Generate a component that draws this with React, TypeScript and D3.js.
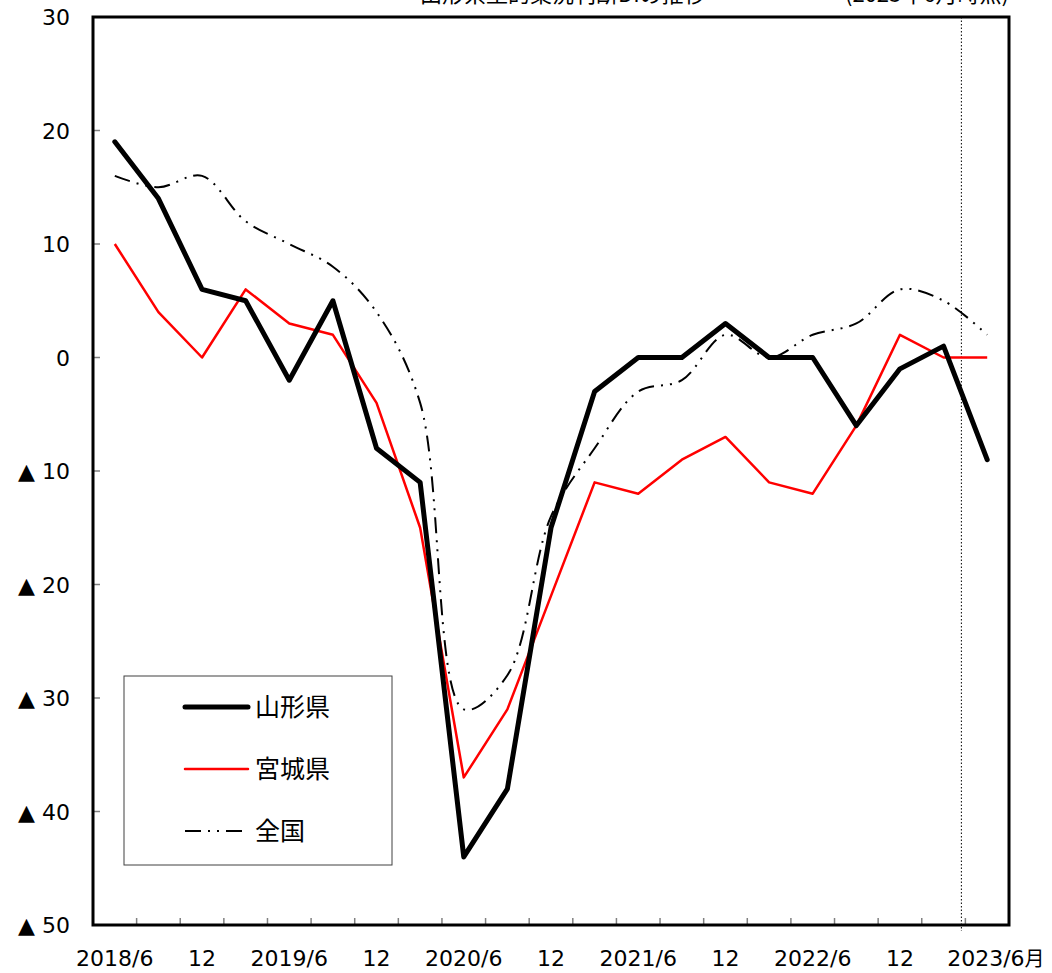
import React, { useRef, useEffect } from "react";
import * as d3 from "d3";

// quarters, 2018/6 .. 2023/6 (last one is the forecast)
const periods = [
  "2018/6", "2018/9", "2018/12", "2019/3", "2019/6", "2019/9", "2019/12",
  "2020/3", "2020/6", "2020/9", "2020/12", "2021/3", "2021/6", "2021/9",
  "2021/12", "2022/3", "2022/6", "2022/9", "2022/12", "2023/3", "2023/6",
];
const tickLabels = [
  "2018/6", "", "12", "", "2019/6", "", "12", "", "2020/6", "", "12", "",
  "2021/6", "", "12", "", "2022/6", "", "12", "", "2023/6",
];
const yamagata = [19, 14, 6, 5, -2, 5, -8, -11, -44, -38, -15, -3, 0, 0, 3, 0, 0, -6, -1, 1, -9];
const miyagi = [10, 4, 0, 6, 3, 2, -4, -15, -37, -31, -21, -11, -12, -9, -7, -11, -12, -6, 2, 0, 0];
const zenkoku = [16, 15, 16, 12, 10, 8, 4, -4, -31, -28, -14, -8, -3, -2, 2, 0, 2, 3, 6, 5, 2];
const yTicks = [30, 20, 10, 0, -10, -20, -30, -40, -50];

const W = 1052;
const H = 973;
const margin = { left: 93, right: 43, top: 17, bottom: 48 };
const numFont = "'DejaVu Sans', Verdana, sans-serif";
const jpFont = "'Noto Sans CJK JP', sans-serif";

function App() {
  const svgRef = useRef(null);

  useEffect(() => {
    const svg = d3.select(svgRef.current);
    svg.selectAll("*").remove();

    const x = d3
      .scaleBand()
      .domain(periods)
      .range([margin.left, W - margin.right])
      .padding(0);
    const y = d3
      .scaleLinear()
      .domain([-50, 30])
      .range([H - margin.bottom, margin.top]);
    const cx = (p) => x(p) + x.bandwidth() / 2;

    // title (mostly cut off at the top of the picture)
    svg.append("text")
      .attr("x", 420).attr("y", 2)
      .attr("font-family", jpFont).attr("font-size", 22)
      .text("山形県型的業況判断DIの推移");
    svg.append("text")
      .attr("x", 845).attr("y", 2)
      .attr("font-family", jpFont).attr("font-size", 22)
      .text("(2023年6月時点)");

    // tick marks, inside the frame
    const g = svg.append("g");
    yTicks.slice(1, -1).forEach((t) => {
      g.append("line")
        .attr("x1", margin.left).attr("x2", margin.left + 7)
        .attr("y1", y(t)).attr("y2", y(t))
        .attr("stroke", "#808080").attr("stroke-width", 1.5);
    });
    periods.slice(1).forEach((p) => {
      g.append("line")
        .attr("x1", x(p)).attr("x2", x(p))
        .attr("y1", y(-50)).attr("y2", y(-50) - 7)
        .attr("stroke", "#808080").attr("stroke-width", 1.5);
    });

    // y labels
    yTicks.forEach((t) => {
      svg.append("text")
        .attr("x", 70).attr("y", y(t) + 8)
        .attr("text-anchor", "end")
        .attr("font-family", numFont).attr("font-size", 22)
        .text(t < 0 ? "▲ " + Math.abs(t) : String(t));
    });

    // x labels
    periods.forEach((p, i) => {
      if (!tickLabels[i]) return;
      const last = i === periods.length - 1;
      const t = svg.append("text")
        .attr("x", last ? cx(p) - 40 : cx(p))
        .attr("y", 966)
        .attr("text-anchor", last ? "start" : "middle")
        .attr("font-family", numFont).attr("font-size", 22)
        .text(tickLabels[i]);
      if (last) {
        t.append("tspan").attr("font-family", jpFont).attr("font-size", 20).text("月");
      }
    });

    // forecast divider
    svg.append("line")
      .attr("x1", x("2023/6") - 4).attr("x2", x("2023/6") - 4)
      .attr("y1", y(30)).attr("y2", y(-50) + 6)
      .attr("stroke", "#000").attr("stroke-width", 1)
      .attr("stroke-dasharray", "1.5,2");

    const line = d3.line().x((d, i) => cx(periods[i])).y((d) => y(d));

    svg.append("path")
      .attr("d", line.curve(d3.curveCatmullRom.alpha(0.5))(zenkoku))
      .attr("fill", "none").attr("stroke", "#000").attr("stroke-width", 2)
      .attr("stroke-dasharray", "16,7,2,7,2,7");
    svg.append("path")
      .attr("d", line.curve(d3.curveLinear)(miyagi))
      .attr("fill", "none").attr("stroke", "#ff0000").attr("stroke-width", 2.5)
      .attr("stroke-linejoin", "round");
    svg.append("path")
      .attr("d", line.curve(d3.curveLinear)(yamagata))
      .attr("fill", "none").attr("stroke", "#000").attr("stroke-width", 5)
      .attr("stroke-linejoin", "round").attr("stroke-linecap", "round");

    // frame
    svg.append("rect")
      .attr("x", margin.left).attr("y", margin.top)
      .attr("width", W - margin.left - margin.right)
      .attr("height", H - margin.top - margin.bottom)
      .attr("fill", "none").attr("stroke", "#000").attr("stroke-width", 3);

    // legend
    const lg = svg.append("g");
    lg.append("rect")
      .attr("x", 124).attr("y", 676).attr("width", 268).attr("height", 189)
      .attr("fill", "#fff").attr("stroke", "#404040").attr("stroke-width", 1);
    const items = [
      { name: "山形県", color: "#000", w: 5, dash: null },
      { name: "宮城県", color: "#ff0000", w: 2.5, dash: null },
      { name: "全国", color: "#000", w: 2, dash: "16,7,2,7,2,7" },
    ];
    items.forEach((it, i) => {
      const ly = 707 + i * 62;
      lg.append("line")
        .attr("x1", 185).attr("x2", 248).attr("y1", ly).attr("y2", ly)
        .attr("stroke", it.color).attr("stroke-width", it.w)
        .attr("stroke-linecap", it.dash ? "butt" : "round")
        .attr("stroke-dasharray", it.dash);
      lg.append("text")
        .attr("x", 255).attr("y", ly + 9)
        .attr("font-family", jpFont).attr("font-size", 25)
        .text(it.name);
    });
  }, []);

  return (
    <svg
      ref={svgRef}
      width={W}
      height={H}
      style={{ position: "absolute", left: 0, top: 0, background: "#fff" }}
    ></svg>
  );
}

export default App;
